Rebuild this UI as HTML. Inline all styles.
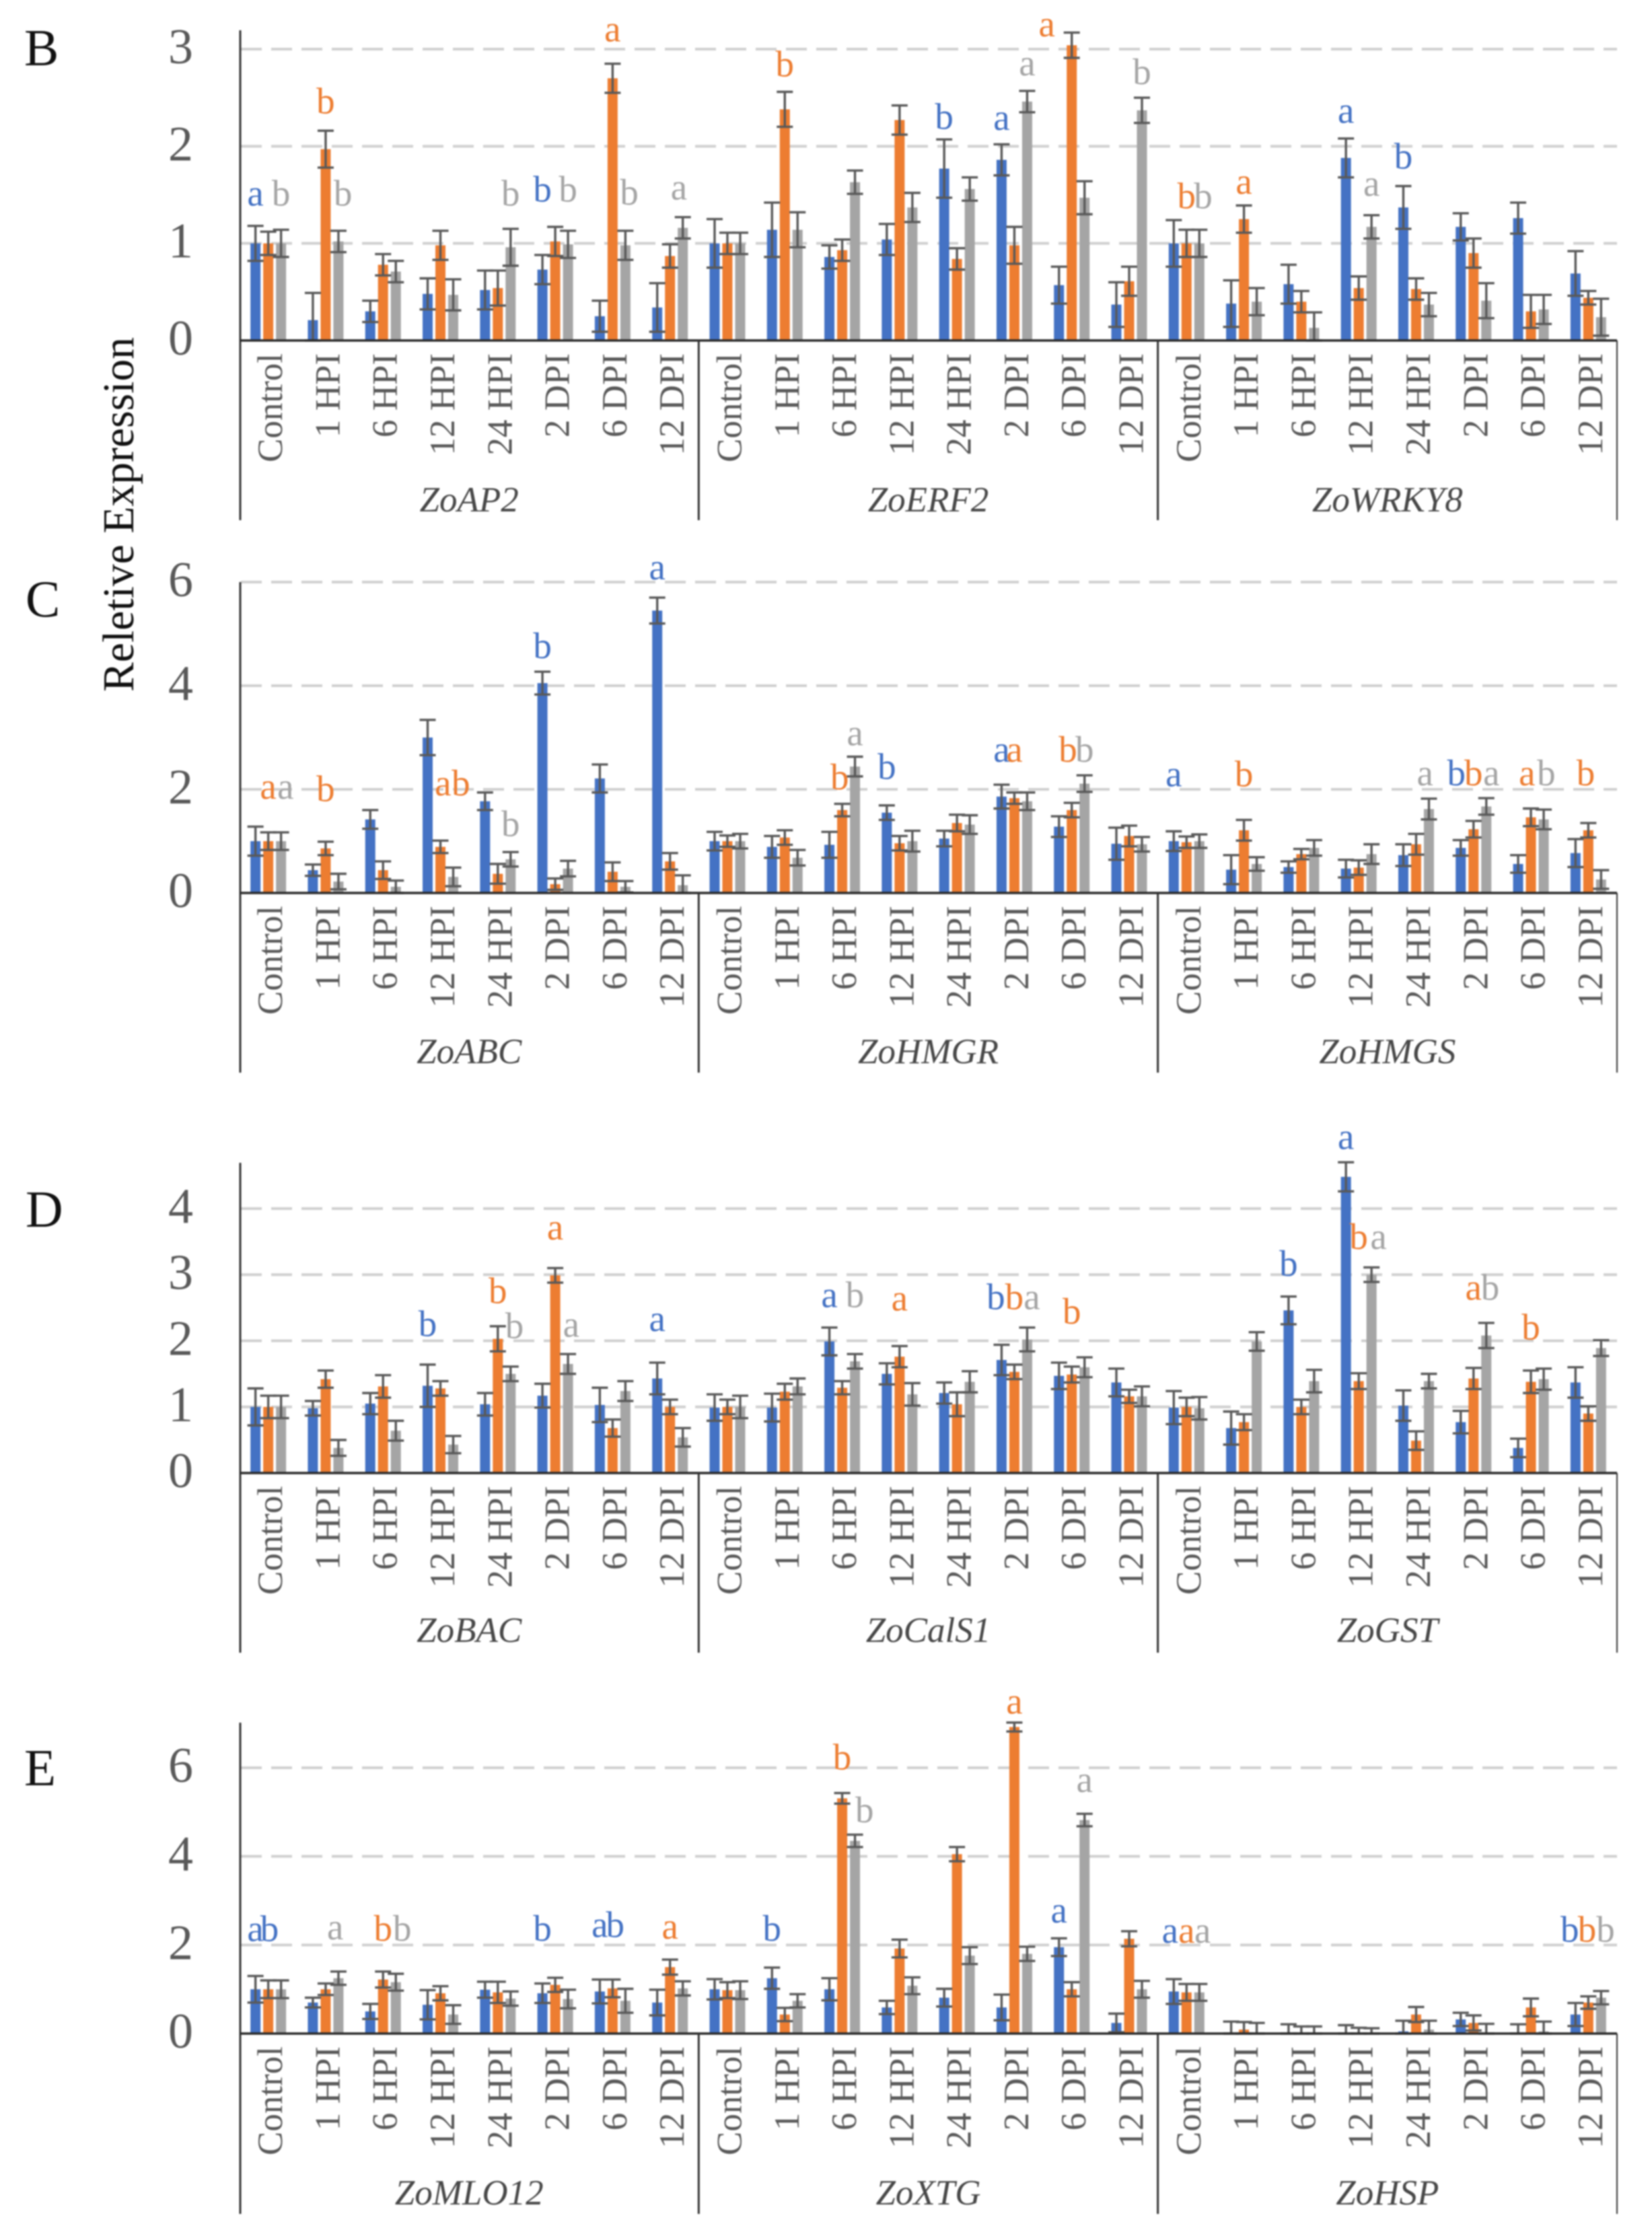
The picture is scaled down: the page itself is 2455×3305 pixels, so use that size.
<!DOCTYPE html>
<html lang="en">
<head>
<meta charset="utf-8">
<title>Relative expression of Zo genes</title>
<style>
  html, body { margin: 0; padding: 0; background: #fff; }
  #chart { display: block; width: 2455px; height: 3305px; filter: blur(1.1px); }
  text { font-family: "Liberation Serif", serif; }
</style>
</head>
<body>
<svg id="chart" xmlns="http://www.w3.org/2000/svg" width="2455" height="3305" viewBox="0 0 2455 3305"></svg>
<script>
const categories = ["Control", "1 HPI", "6 HPI", "12 HPI", "24 HPI", "2 DPI", "6 DPI", "12 DPI"];
const seriesNames = ["blue", "orange", "grey"];
const ticksB = [0, 1, 2, 3];
const ticksC = [0, 2, 4, 6];
const ticksD = [0, 1, 2, 3, 4];
const ticksE = [0, 2, 4, 6];

const ZoAP2Blue = [1, .21, .3, .48, .52, .73, .25, .34];
const ZoAP2BlueErr = [.18, .28, .11, .16, .2, .15, .16, .25];
const ZoAP2Orange = [1, 1.97, .78, .98, .54, 1.02, 2.7, .87];
const ZoAP2OrangeErr = [.12, .19, .11, .15, .18, .15, .15, .12];
const ZoAP2Grey = [1, 1.02, .71, .47, .96, .99, .98, 1.16];
const ZoAP2GreyErr = [.14, .11, .11, .16, .19, .14, .15, .11];
const ZoAP2Letters = [[0,0,"a",1.39],[0,2,"b",1.39],[1,1,"b",2.34],[1,2,"b",1.39,2.35],[4,2,"b",1.39],[5,0,"b",1.43],[5,2,"b",1.43],[6,1,"a",3.08],[6,2,"b",1.4,2.3],[7,2,"a",1.45,1.7]];

const ZoERF2Blue = [1, 1.14, .86, 1.04, 1.77, 1.86, .57, .37];
const ZoERF2BlueErr = [.25, .28, .12, .16, .3, .16, .19, .23];
const ZoERF2Orange = [1, 2.38, .93, 2.27, .84, .98, 3.04, .61];
const ZoERF2OrangeErr = [.11, .18, .11, .15, .11, .19, .13, .15];
const ZoERF2Grey = [1, 1.14, 1.63, 1.37, 1.56, 2.46, 1.47, 2.37];
const ZoERF2GreyErr = [.11, .18, .12, .15, .12, .11, .17, .13];
const ZoERF2Letters = [[1,1,"b",2.72],[4,0,"b",2.18],[5,0,"a",2.17],[5,2,"a",2.73],[6,1,"a",3.13,-.95],[7,2,"b",2.64]];

const ZoWRKY8Blue = [1, .38, .58, 1.88, 1.37, 1.17, 1.26, .69];
const ZoWRKY8BlueErr = [.24, .24, .2, .2, .22, .14, .16, .23];
const ZoWRKY8Orange = [1, 1.25, .4, .54, .53, .9, .3, .44];
const ZoWRKY8OrangeErr = [.14, .14, .11, .12, .11, .15, .17, .07];
const ZoWRKY8Grey = [1, .4, .13, 1.17, .37, .41, .32, .24];
const ZoWRKY8GreyErr = [.14, .14, .16, .12, .12, .18, .15, .19];
const ZoWRKY8Letters = [[0,1,"b",1.36],[0,2,"b",1.36,2.3],[1,1,"a",1.51],[3,0,"a",2.24],[3,2,"a",1.49],[4,0,"b",1.77]];

const ZoABCBlue = [1, .44, 1.42, 3.0, 1.77, 4.05, 2.21, 5.45];
const ZoABCBlueErr = [.28, .11, .18, .34, .17, .22, .27, .25];
const ZoABCOrange = [1, .86, .44, .89, .37, .17, .41, .61];
const ZoABCOrangeErr = [.17, .13, .17, .12, .19, .11, .18, .16];
const ZoABCGrey = [1, .22, .12, .31, .65, .47, .12, .15];
const ZoABCGreyErr = [.17, .15, .12, .18, .14, .15, .11, .19];
const ZoABCLetters = [[0,1,"a",1.82],[0,2,"a",1.82,2.35],[1,1,"b",1.77],[3,1,"a",1.88,1.2],[3,1,"b",1.88,2.6],[4,2,"b",1.1],[5,0,"b",4.53],[7,0,"a",6.05]];

const ZoHMGRBlue = [1, .89, .93, 1.55, 1.05, 1.86, 1.28, .95];
const ZoHMGRBlueErr = [.18, .21, .25, .14, .15, .23, .2, .31];
const ZoHMGROrange = [1, 1.07, 1.6, .96, 1.35, 1.83, 1.6, 1.1];
const ZoHMGROrangeErr = [.11, .14, .12, .14, .16, .11, .14, .2];
const ZoHMGRGrey = [1, .68, 2.44, 1, 1.32, 1.77, 2.11, .94];
const ZoHMGRGreyErr = [.14, .15, .19, .2, .18, .17, .16, .14];
const ZoHMGRLetters = [[2,1,"b",2.0,.8],[2,2,"a",2.85],[3,0,"b",2.2],[5,0,"a",2.53],[5,1,"a",2.53],[6,1,"b",2.53,.7],[6,2,"b",2.53]];

const ZoHMGSBlue = [1, .45, .5, .47, .73, .87, .56, .77];
const ZoHMGSBlueErr = [.19, .28, .11, .17, .21, .15, .17, .27];
const ZoHMGSOrange = [.98, 1.21, .75, .49, .94, 1.23, 1.46, 1.21];
const ZoHMGSOrangeErr = [.11, .2, .1, .14, .2, .16, .17, .14];
const ZoHMGSGrey = [1, .56, .87, .75, 1.62, 1.67, 1.42, .26];
const ZoHMGSGreyErr = [.13, .13, .15, .19, .2, .16, .19, .18];
const ZoHMGSLetters = [[0,0,"a",2.06],[1,1,"b",2.06],[4,2,"a",2.08,1.7],[5,0,"b",2.08,-.34],[5,1,"b",2.08],[5,2,"a",2.08,2.4],[6,1,"a",2.08,.7],[6,2,"b",2.08,2.2],[7,1,"b",2.08,.8]];

const ZoBACBlue = [1, .98, 1.05, 1.32, 1.04, 1.17, 1.03, 1.43];
const ZoBACBlueErr = [.28, .11, .16, .32, .17, .18, .26, .24];
const ZoBACOrange = [1, 1.42, 1.31, 1.28, 2.03, 2.99, .68, 1];
const ZoBACOrangeErr = [.17, .13, .17, .11, .19, .11, .13, .11];
const ZoBACGrey = [1, .38, .64, .43, 1.5, 1.65, 1.24, .54];
const ZoBACGreyErr = [.17, .12, .15, .13, .11, .15, .15, .14];
const ZoBACLetters = [[3,0,"b",2.07],[4,1,"b",2.57],[4,2,"b",2.04,2.3],[5,1,"a",3.53],[5,2,"a",2.06,2.25],[7,0,"a",2.15]];

const ZoCalS1Blue = [.99, .99, 1.99, 1.5, 1.21, 1.71, 1.47, 1.37];
const ZoCalS1BlueErr = [.2, .21, .21, .16, .16, .23, .2, .21];
const ZoCalS1Orange = [1, 1.23, 1.29, 1.76, 1.04, 1.53, 1.49, 1.16];
const ZoCalS1OrangeErr = [.11, .12, .1, .16, .18, .11, .12, .1];
const ZoCalS1Grey = [1, 1.31, 1.69, 1.19, 1.38, 2.02, 1.6, 1.16];
const ZoCalS1GreyErr = [.17, .12, .11, .17, .16, .18, .15, .15];
const ZoCalS1Letters = [[2,0,"a",2.51],[2,2,"b",2.51],[3,1,"a",2.46],[5,0,"b",2.48,-.45],[5,1,"b",2.48],[5,2,"a",2.48,2.37],[6,1,"b",2.26]];

const ZoGSTBlue = [.99, .68, 2.46, 4.48, 1.02, .77, .38, 1.37];
const ZoGSTBlueErr = [.25, .25, .21, .22, .23, .17, .14, .23];
const ZoGSTOrange = [1, .77, 1, 1.39, .49, 1.43, 1.38, .9];
const ZoGSTOrangeErr = [.14, .12, .11, .12, .14, .16, .17, .11];
const ZoGSTGrey = [.98, 1.99, 1.39, 3.0, 1.39, 2.08, 1.42, 1.89];
const ZoGSTGreyErr = [.17, .14, .17, .11, .11, .19, .16, .12];
const ZoGSTLetters = [[2,0,"b",2.98],[3,0,"a",4.9],[3,1,"b",3.39],[3,2,"a",3.39,2.55],[5,1,"a",2.62],[5,2,"b",2.62,2.3],[6,1,"b",2.02]];

const ZoMLO12Blue = [1, .7, .5, .65, .99, .91, .95, .7];
const ZoMLO12BlueErr = [.3, .11, .17, .33, .18, .22, .27, .29];
const ZoMLO12Orange = [1, 1, 1.22, .91, .93, 1.1, 1.02, 1.5];
const ZoMLO12OrangeErr = [.2, .13, .18, .16, .24, .16, .2, .17];
const ZoMLO12Grey = [1, 1.25, 1.16, .43, .79, .78, .74, 1.02];
const ZoMLO12GreyErr = [.2, .15, .19, .21, .16, .21, .27, .16];
const ZoMLO12Letters = [[0,0,"a",2.09],[0,0,"b",2.09,1.1],[1,2,"a",2.13,1.75],[2,1,"b",2.1],[2,2,"b",2.1,2.5],[5,0,"b",2.1],[6,0,"a",2.18],[6,0,"b",2.18,1.2],[7,1,"a",2.14]];

const ZoXTGBlue = [1, 1.25, 1, .59, .81, .59, 1.95, .24];
const ZoXTGBlueErr = [.23, .24, .25, .15, .2, .29, .2, .21];
const ZoXTGOrange = [.98, .43, 5.31, 1.92, 4.05, 6.92, 1, 2.14];
const ZoXTGOrangeErr = [.18, .15, .12, .2, .16, .1, .16, .17];
const ZoXTGGrey = [.98, .74, 4.35, 1.08, 1.76, 1.8, 4.82, 1];
const ZoXTGGreyErr = [.2, .15, .14, .19, .19, .16, .14, .19];
const ZoXTGLetters = [[1,0,"b",2.1],[2,1,"b",5.96],[2,2,"b",4.77,2.75],[5,1,"a",7.22],[6,0,"a",2.51],[6,2,"a",5.45]];

const ZoHSPBlue = [.95, .02, .01, .02, .05, .32, .02, .43];
const ZoHSPBlueErr = [.28, .25, .2, .17, .24, .15, .19, .26];
const ZoHSPOrange = [.93, .09, .01, .01, .43, .24, .59, .7];
const ZoHSPOrangeErr = [.19, .17, .15, .12, .17, .17, .2, .14];
const ZoHSPGrey = [.93, .02, .01, .01, .09, .02, .05, .81];
const ZoHSPGreyErr = [.19, .22, .15, .11, .2, .2, .22, .15];
const ZoHSPLetters = [[0,0,"a",2.05,-.29],[0,1,"a",2.05],[0,2,"a",2.05,2.26],[7,0,"b",2.07,-.45],[7,1,"b",2.07,.9],[7,2,"b",2.07,2.35]];

const panelB = [
  { gene: "ZoAP2", values: [ZoAP2Blue, ZoAP2Orange, ZoAP2Grey], errors: [ZoAP2BlueErr, ZoAP2OrangeErr, ZoAP2GreyErr], letters: ZoAP2Letters },
  { gene: "ZoERF2", values: [ZoERF2Blue, ZoERF2Orange, ZoERF2Grey], errors: [ZoERF2BlueErr, ZoERF2OrangeErr, ZoERF2GreyErr], letters: ZoERF2Letters },
  { gene: "ZoWRKY8", values: [ZoWRKY8Blue, ZoWRKY8Orange, ZoWRKY8Grey], errors: [ZoWRKY8BlueErr, ZoWRKY8OrangeErr, ZoWRKY8GreyErr], letters: ZoWRKY8Letters }
];
const panelC = [
  { gene: "ZoABC", values: [ZoABCBlue, ZoABCOrange, ZoABCGrey], errors: [ZoABCBlueErr, ZoABCOrangeErr, ZoABCGreyErr], letters: ZoABCLetters },
  { gene: "ZoHMGR", values: [ZoHMGRBlue, ZoHMGROrange, ZoHMGRGrey], errors: [ZoHMGRBlueErr, ZoHMGROrangeErr, ZoHMGRGreyErr], letters: ZoHMGRLetters },
  { gene: "ZoHMGS", values: [ZoHMGSBlue, ZoHMGSOrange, ZoHMGSGrey], errors: [ZoHMGSBlueErr, ZoHMGSOrangeErr, ZoHMGSGreyErr], letters: ZoHMGSLetters }
];
const panelD = [
  { gene: "ZoBAC", values: [ZoBACBlue, ZoBACOrange, ZoBACGrey], errors: [ZoBACBlueErr, ZoBACOrangeErr, ZoBACGreyErr], letters: ZoBACLetters },
  { gene: "ZoCalS1", values: [ZoCalS1Blue, ZoCalS1Orange, ZoCalS1Grey], errors: [ZoCalS1BlueErr, ZoCalS1OrangeErr, ZoCalS1GreyErr], letters: ZoCalS1Letters },
  { gene: "ZoGST", values: [ZoGSTBlue, ZoGSTOrange, ZoGSTGrey], errors: [ZoGSTBlueErr, ZoGSTOrangeErr, ZoGSTGreyErr], letters: ZoGSTLetters }
];
const panelE = [
  { gene: "ZoMLO12", values: [ZoMLO12Blue, ZoMLO12Orange, ZoMLO12Grey], errors: [ZoMLO12BlueErr, ZoMLO12OrangeErr, ZoMLO12GreyErr], letters: ZoMLO12Letters },
  { gene: "ZoXTG", values: [ZoXTGBlue, ZoXTGOrange, ZoXTGGrey], errors: [ZoXTGBlueErr, ZoXTGOrangeErr, ZoXTGGreyErr], letters: ZoXTGLetters },
  { gene: "ZoHSP", values: [ZoHSPBlue, ZoHSPOrange, ZoHSPGrey], errors: [ZoHSPBlueErr, ZoHSPOrangeErr, ZoHSPGreyErr], letters: ZoHSPLetters }
];

const layouts = [
  { letter: "B", ticks: ticksB, genes: panelB, base: 506, topTick: 73, axisTop: 45, bottom: 773, nameY: 760, letterX: 36, letterY: 97 },
  { letter: "C", ticks: ticksC, genes: panelC, base: 1327, topTick: 865, axisTop: 865, bottom: 1594, nameY: 1580, letterX: 38, letterY: 916 },
  { letter: "D", ticks: ticksD, genes: panelD, base: 2189, topTick: 1796, axisTop: 1728, bottom: 2456, nameY: 2440, letterX: 38, letterY: 1823 },
  { letter: "E", ticks: ticksE, genes: panelE, base: 3022, topTick: 2627, axisTop: 2560, bottom: 3290, nameY: 3276, letterX: 36, letterY: 2653 }
];

const svg = document.getElementById("chart");
const NS = "http://www.w3.org/2000/svg";
const colors = ["#4472c4", "#ed7d31", "#a5a5a5"];
const plotLeft = 356;
const groupWidth = 682.33;
const catWidth = groupWidth / 8;
const barStep = 19;
const barWidth = 15;

function make(tag, attrs, parent, content) {
  const el = document.createElementNS(NS, tag);
  for (const k in attrs) el.setAttribute(k, attrs[k]);
  if (content !== undefined) el.textContent = content;
  parent.appendChild(el);
  return el;
}
function xCat(g, c) { return plotLeft + g * groupWidth + (c + 0.5) * catWidth; }
function xSlot(g, c, slot) { return xCat(g, c) + (slot - 1) * barStep; }

layouts.forEach(function (p) {
  const maxTick = p.ticks[p.ticks.length - 1];
  const unit = (p.base - p.topTick) / maxTick;
  const yVal = function (v) { return p.base - v * unit; };

  const panel = make("g", {}, svg);
  
  

  const panelLabel = make("text", { x: p.letterX, y: p.letterY, "font-size": 77, fill: "#111" }, panel, p.letter);
  
  

  p.ticks.forEach(function (t) {
    if (t > 0) {
      const grid = make("line", { x1: plotLeft + 2, x2: plotLeft + 3 * groupWidth, y1: yVal(t), y2: yVal(t), stroke: "#d0d0d0", "stroke-width": 4, "stroke-dasharray": "31 14" }, panel);
      
      
    }
    const tick = make("text", { x: 287, y: yVal(t) + 21, "font-size": 74, fill: "#595959", "text-anchor": "end" }, panel, String(t));
    
    
  });

  p.genes.forEach(function (gene, g) {
    const geneGroup = make("g", {}, panel);
    
    

    gene.values.forEach(function (vals, s) {
      vals.forEach(function (v, c) {
        const bar = make("rect", { x: xSlot(g, c, s) - barWidth / 2, y: yVal(v), width: barWidth, height: Math.max(0, p.base - yVal(v)), fill: colors[s] }, geneGroup);
        
        
      });
    });

    gene.values.forEach(function (vals, s) {
      vals.forEach(function (v, c) {
        const e = gene.errors[s][c];
        const cx = xSlot(g, c, s);
        const top = yVal(v + e);
        const low = yVal(Math.max(0, v - e));
        const errorBar = make("path", { d: "M" + cx + " " + top + "V" + low + "M" + (cx - 12) + " " + top + "H" + (cx + 12) + "M" + (cx - 12) + " " + low + "H" + (cx + 12), stroke: "#595959", "stroke-width": 3.4, fill: "none" }, geneGroup);
        
        
      });
    });

    gene.letters.forEach(function (l) {
      const slot = l.length > 4 ? l[4] : l[1];
      const sig = make("text", { x: xSlot(g, l[0], slot), y: yVal(l[3]), "font-size": 55, fill: colors[l[1]], "text-anchor": "middle" }, geneGroup, l[2]);
      
      
    });

    categories.forEach(function (cat, c) {
      const bx = xCat(g, c) + 20.5;
      const by = p.base + 19;
      const catLabel = make("text", { x: bx, y: by, "font-size": 53, fill: "#595959", "text-anchor": "end", transform: "rotate(-90 " + bx + " " + by + ")" }, geneGroup, cat);
      
      
    });

    const name = make("text", { x: plotLeft + (g + 0.5) * groupWidth, y: p.nameY, "font-size": 53, "font-style": "italic", fill: "#484848", "text-anchor": "middle" }, geneGroup, gene.gene);
    
    
  });

  const yAxis = make("line", { x1: plotLeft + 1, x2: plotLeft + 1, y1: p.axisTop, y2: p.bottom, stroke: "#333", "stroke-width": 3 }, panel);
  
  

  const xAxis = make("line", { x1: plotLeft, x2: plotLeft + 3 * groupWidth, y1: p.base, y2: p.base, stroke: "#2b2b2b", "stroke-width": 3.5 }, panel);
  
  

  [1, 2, 3].forEach(function (i) {
    const sx = plotLeft + i * groupWidth;
    const sep = make("line", { x1: sx, x2: sx, y1: p.base, y2: p.bottom, stroke: "#333", "stroke-width": i === 3 ? 2 : 3 }, panel);
    
    
  });
});

const yTitle = make("text", { x: 198, y: 1028, "font-size": 66, fill: "#111", textLength: 527, lengthAdjust: "spacingAndGlyphs", transform: "rotate(-90 198 1028)" }, svg, "Reletive Expression");


</script>
</body>
</html>
